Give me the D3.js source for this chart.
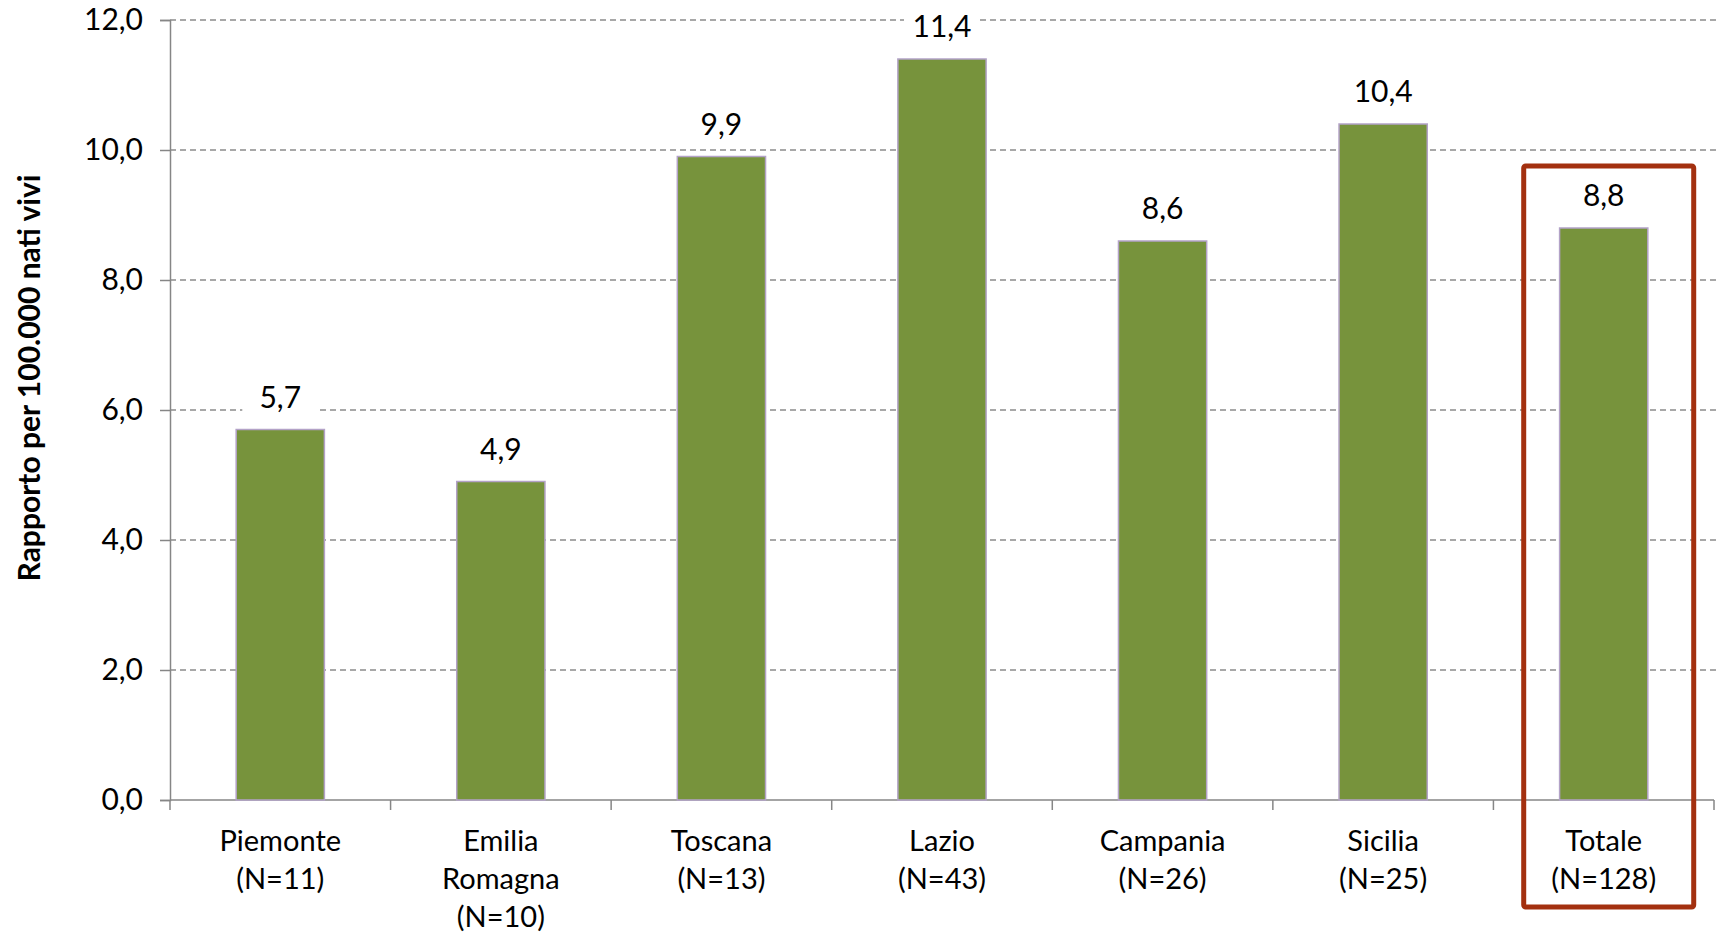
<!DOCTYPE html>
<html>
<head>
<meta charset="utf-8">
<script src="https://cdn.jsdelivr.net/npm/d3@7"></script>
<style>
  html, body { margin: 0; padding: 0; background: #fff; }
  svg { display: block; font-family: Lato, "Open Sans", sans-serif; }
</style>
</head>
<body>
<svg id="chart" width="1716" height="934"></svg>
<script>
// Regions and their number of cases
const regions = ["Piemonte", "Emilia Romagna", "Toscana", "Lazio", "Campania", "Sicilia", "Totale"];
const regionLines = [["Piemonte", "(N=11)"], ["Emilia", "Romagna", "(N=10)"], ["Toscana", "(N=13)"], ["Lazio", "(N=43)"], ["Campania", "(N=26)"], ["Sicilia", "(N=25)"], ["Totale", "(N=128)"]];
// Ratio per 100,000 live births
const ratios = [5.7, 4.9, 9.9, 11.4, 8.6, 10.4, 8.8];
const yTicks = [0, 2, 4, 6, 8, 10, 12];
const highlighted = "Totale";

const svg = d3.select("#chart");
const plotLeft = 170, plotRight = 1714, plotTop = 20, plotBottom = 800;

const x = d3.scaleBand().domain(regions).range([plotLeft, plotRight]).paddingInner(0.6).paddingOuter(0.3);
const xBand = d3.scaleBand().domain(regions).range([plotLeft, plotRight]).padding(0);
const y = d3.scaleLinear().domain([0, 12]).range([plotBottom, plotTop]);
const fmt = v => d3.format(".1f")(v).replace(".", ",");

// Dashed horizontal gridlines
svg.append("g")
  .selectAll("line")
  .data(yTicks.filter(t => t > 0))
  .join("line")
  .attr("x1", plotLeft).attr("x2", 1716)
  .attr("y1", d => y(d)).attr("y2", d => y(d))
  .attr("stroke", "#8c8c8c").attr("stroke-width", 1.5)
  .attr("stroke-dasharray", "6,4");

// Y axis
const yAxis = svg.append("g")
  .attr("transform", `translate(${plotLeft},0)`)
  .call(d3.axisLeft(y).tickValues(yTicks).tickFormat(fmt).tickSize(10).tickPadding(17));
yAxis.select(".domain").attr("stroke", "#868686").attr("stroke-width", 1.5);
yAxis.selectAll(".tick line").attr("stroke", "#868686").attr("stroke-width", 1.5);
yAxis.selectAll(".tick text").attr("font-size", 30).attr("fill", "#000")
  .attr("font-family", "Lato, 'Open Sans', sans-serif");

// Y axis title
svg.append("text")
  .attr("transform", `translate(40, 378) rotate(-90)`)
  .attr("text-anchor", "middle")
  .attr("font-size", 30).attr("font-weight", "bold")
  .text("Rapporto per 100.000 nati vivi");

// X axis line with boundary ticks
svg.append("line")
  .attr("x1", plotLeft).attr("x2", plotRight)
  .attr("y1", plotBottom).attr("y2", plotBottom)
  .attr("stroke", "#868686").attr("stroke-width", 1.5);
const bounds = regions.map(r => xBand(r)).concat([plotRight]);
svg.append("g").selectAll("line").data(bounds).join("line")
  .attr("x1", d => d).attr("x2", d => d)
  .attr("y1", plotBottom).attr("y2", plotBottom + 10)
  .attr("stroke", "#868686").attr("stroke-width", 1.5);

// Bars
svg.append("g").selectAll("rect")
  .data(regions)
  .join("rect")
  .attr("x", d => x(d))
  .attr("y", (d, i) => y(ratios[i]))
  .attr("width", x.bandwidth())
  .attr("height", (d, i) => y(0) - y(ratios[i]))
  .attr("fill", "#77933c")
  .attr("stroke", "#b3a2c7").attr("stroke-width", 1.5);

// Value labels with a white backing that interrupts gridlines
const labels = svg.append("g").selectAll("g")
  .data(regions)
  .join("g")
  .attr("transform", (d, i) => `translate(${x(d) + x.bandwidth() / 2}, ${y(ratios[i]) - 22})`);
labels.append("rect")
  .attr("x", -38).attr("y", -28).attr("width", 76).attr("height", 36)
  .attr("fill", "#fff");
labels.append("text")
  .attr("text-anchor", "middle")
  .attr("font-size", 30)
  .text((d, i) => fmt(ratios[i]));

// Category labels
const cats = svg.append("g").selectAll("text")
  .data(regions)
  .join("text")
  .attr("text-anchor", "middle")
  .attr("font-size", 29)
  .attr("x", d => x(d) + x.bandwidth() / 2)
  .attr("y", 851);
cats.selectAll("tspan")
  .data((d, i) => regionLines[i])
  .join("tspan")
  .attr("x", function () { return d3.select(this.parentNode).attr("x"); })
  .attr("dy", (d, j) => j === 0 ? 0 : 38)
  .text(d => d);

// Highlight frame around the total
const hx = x(highlighted) + x.bandwidth() / 2;
svg.append("rect")
  .attr("x", hx - 80).attr("y", 166)
  .attr("width", 170).attr("height", 741)
  .attr("rx", 2)
  .attr("fill", "none")
  .attr("stroke", "#a3300f").attr("stroke-width", 5);
</script>
</body>
</html>
